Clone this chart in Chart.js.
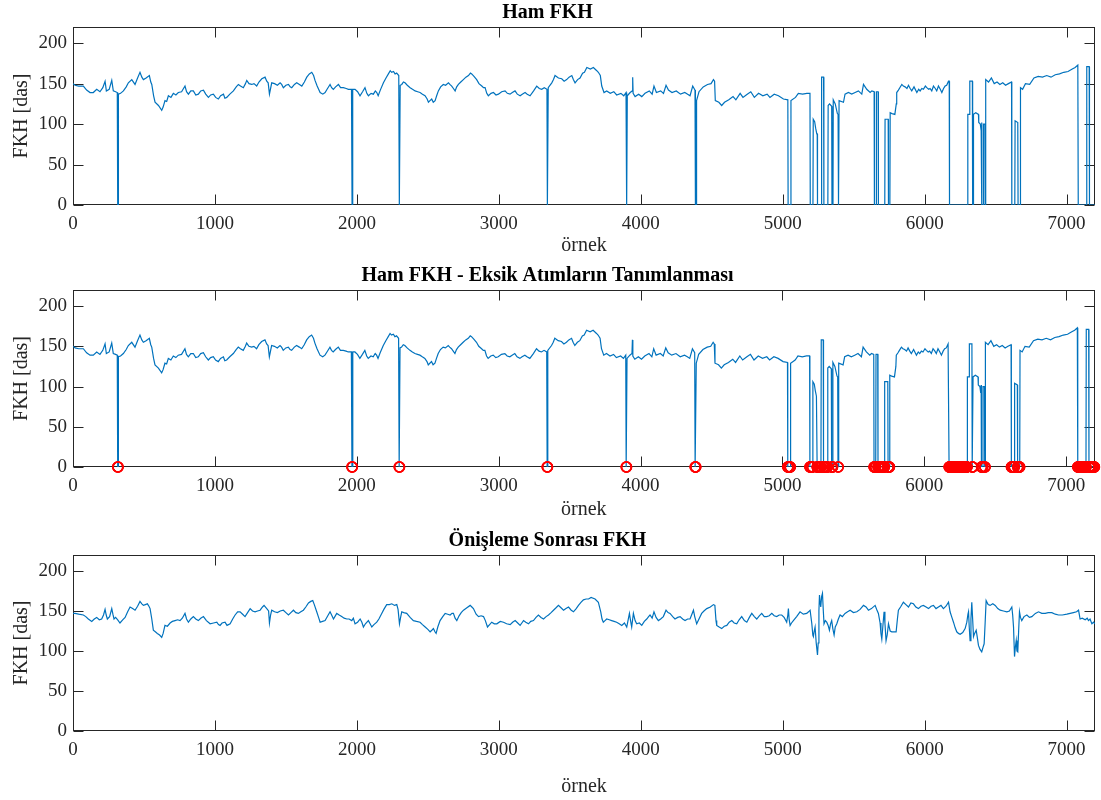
<!DOCTYPE html>
<html>
<head>
<meta charset="utf-8">
<script src="https://cdn.jsdelivr.net/npm/chart.js@4.4.0/dist/chart.umd.min.js"></script>
<style>
  body { margin: 0; background: #fff; width: 1101px; height: 800px; position: relative; overflow: hidden; }
  canvas { position: absolute; left: 0; }
</style>
</head>
<body>
<canvas id="c1"></canvas>
<canvas id="c2"></canvas>
<canvas id="c3"></canvas>
<script>
// axis ranges / tick labels
const ornekMax = 7200;
const fkhMax = 220;
const xTicks = [0, 1000, 2000, 3000, 4000, 5000, 6000, 7000];
const yTicks = [0, 50, 100, 150, 200];

const titles = ["Ham FKH", "Ham FKH - Eksik Atımların Tanımlanması", "Önişleme Sonrası FKH"];

// raw FKH, [örnek, value] (0 = missing beat)
const hamFKH = [
  [0,150],[15,148],[40,147],[73,147],[96,142],[120,139],[143,139],[167,143],[190,140],[210,145],[226,153],[235,141],
  [255,143],[273,154],[284,141],[300,140],[312,139],[315,0],[318,0],[320,137],[335,138],[355,141],[375,146],[390,151],
  [414,155],[437,149],[455,157],[472,164],[485,158],[496,155],[515,157],[538,160],[548,152],[555,149],[568,135],[578,127],
  [602,123],[625,117],[635,121],[648,129],[660,128],[672,135],[690,133],[707,138],[725,136],[742,139],[765,140],[789,147],
  [800,140],[813,137],[830,141],[848,141],[865,136],[883,137],[900,141],[919,142],[935,137],[954,133],[970,136],[989,137],
  [1005,133],[1024,131],[1040,135],[1060,137],[1070,132],[1083,133],[1105,137],[1130,141],[1150,146],[1165,149],[1180,147],
  [1200,145],[1215,150],[1224,154],[1240,150],[1259,149],[1275,150],[1294,147],[1310,152],[1330,156],[1353,158],[1365,153],
  [1375,151],[1384,137],[1400,151],[1420,150],[1440,148],[1459,151],[1470,149],[1482,145],[1500,148],[1518,149],[1530,146],
  [1541,145],[1560,149],[1576,151],[1595,149],[1612,147],[1630,152],[1647,158],[1665,162],[1682,164],[1695,160],[1705,154],
  [1720,147],[1741,139],[1760,137],[1776,139],[1790,143],[1811,149],[1822,145],[1834,143],[1850,146],[1870,149],[1885,145],
  [1905,145],[1925,144],[1940,143],[1962,143],[1966,0],[1969,0],[1972,143],[1987,143],[2005,140],[2022,135],[2040,140],
  [2057,145],[2070,138],[2081,135],[2100,138],[2116,137],[2130,141],[2140,139],[2150,135],[2165,142],[2187,151],[2205,157],
  [2222,162],[2235,166],[2245,164],[2258,165],[2269,162],[2280,163],[2295,160],[2299,0],[2302,0],[2305,148],[2316,149],
  [2328,152],[2339,151],[2355,148],[2375,145],[2392,143],[2410,141],[2428,140],[2445,139],[2462,137],[2480,135],[2495,131],
  [2504,127],[2515,129],[2527,131],[2538,127],[2551,129],[2562,135],[2574,141],[2590,146],[2609,149],[2625,148],[2645,151],
  [2655,149],[2668,147],[2680,144],[2692,141],[2703,146],[2715,149],[2732,152],[2750,155],[2768,158],[2786,160],[2800,163],
  [2809,162],[2825,159],[2844,155],[2860,150],[2880,147],[2892,145],[2903,145],[2915,138],[2926,135],[2945,138],[2962,139],
  [2980,136],[2997,137],[3020,140],[3044,141],[3060,138],[3079,137],[3095,139],[3114,141],[3130,137],[3150,135],[3165,137],
  [3185,139],[3200,137],[3220,135],[3245,141],[3267,147],[3285,144],[3302,143],[3320,145],[3339,143],[3342,0],[3345,0],
  [3348,145],[3373,151],[3385,155],[3396,160],[3420,157],[3443,156],[3460,153],[3478,155],[3495,158],[3514,160],[3525,155],
  [3537,151],[3555,155],[3572,157],[3590,163],[3603,164],[3620,170],[3645,168],[3666,170],[3690,166],[3701,164],[3715,160],
  [3725,147],[3741,139],[3760,141],[3785,138],[3810,140],[3830,136],[3860,138],[3880,135],[3896,139],[3899,0],[3902,0],
  [3905,135],[3925,139],[3940,141],[3943,158],[3946,138],[3960,134],[3985,137],[4007,134],[4030,138],[4060,141],[4080,137],
  [4093,147],[4110,139],[4140,141],[4160,138],[4178,148],[4195,142],[4220,139],[4250,141],[4280,137],[4310,139],[4330,137],
  [4347,135],[4366,147],[4382,142],[4385,0],[4390,0],[4393,129],[4410,140],[4440,146],[4470,149],[4495,150],[4512,155],
  [4520,153],[4525,129],[4550,127],[4570,123],[4590,127],[4620,130],[4650,134],[4670,130],[4700,138],[4720,133],[4750,137],
  [4775,140],[4800,133],[4830,138],[4860,135],[4890,137],[4910,133],[4940,137],[4970,135],[5005,131],[5036,130],[5038,0],
  [5056,0],[5058,129],[5090,133],[5110,138],[5140,137],[5170,138],[5192,138],[5194,0],[5213,0],[5215,106],[5225,103],
  [5232,95],[5240,88],[5243,88],[5245,0],[5272,0],[5274,158],[5288,158],[5290,0],[5318,0],[5320,123],[5330,125],[5345,122],
  [5347,0],[5354,0],[5356,130],[5370,125],[5385,113],[5390,112],[5392,0],[5394,0],[5397,129],[5428,127],[5439,137],
  [5463,139],[5486,137],[5510,139],[5533,141],[5557,137],[5569,149],[5592,143],[5616,139],[5628,141],[5644,140],[5646,0],
  [5658,0],[5660,140],[5672,140],[5674,0],[5719,0],[5721,106],[5743,106],[5745,0],[5755,0],[5757,114],[5770,113],[5790,112],
  [5800,125],[5803,139],[5815,142],[5825,145],[5839,149],[5850,147],[5862,146],[5875,144],[5886,148],[5898,144],[5909,141],
  [5925,146],[5945,139],[5958,143],[5968,141],[5980,144],[5991,143],[6005,147],[6015,145],[6028,143],[6038,144],[6050,141],
  [6062,147],[6075,144],[6085,141],[6097,147],[6110,143],[6121,139],[6133,144],[6144,147],[6155,148],[6168,153],[6173,153],
  [6175,0],[6302,0],[6304,112],[6316,112],[6318,153],[6336,153],[6338,0],[6342,0],[6344,112],[6360,114],[6379,112],
  [6381,102],[6392,100],[6398,92],[6401,102],[6403,0],[6412,0],[6414,100],[6424,100],[6426,0],[6429,0],[6431,155],
  [6450,152],[6470,157],[6490,150],[6510,152],[6530,149],[6550,151],[6570,148],[6590,150],[6612,152],[6614,0],[6635,0],
  [6637,104],[6656,102],[6658,0],[6673,0],[6675,145],[6690,143],[6710,150],[6740,149],[6770,157],[6800,159],[6830,158],
  [6860,160],[6890,158],[6920,161],[6950,162],[6980,164],[7010,165],[7040,168],[7060,170],[7079,173],[7082,0],[7140,0],
  [7142,171],[7159,171],[7161,0],[7200,0]
];

// preprocessed FKH
const onislemeFKH = [
  [0,147],[14,147],[40,146],[73,145],[90,143],[108,140],[132,137],[150,140],[167,142],[185,139],[202,140],[215,145],
  [226,152],[234,145],[242,140],[258,143],[273,153],[281,146],[289,140],[300,142],[315,139],[331,135],[350,139],[367,142],
  [385,149],[402,155],[420,153],[437,151],[455,156],[472,162],[485,159],[496,157],[510,158],[524,159],[535,156],[543,153],
  [555,140],[566,126],[580,124],[594,122],[610,120],[625,117],[635,122],[648,132],[665,131],[684,135],[700,137],[719,138],
  [737,139],[754,138],[770,141],[789,147],[800,140],[813,136],[830,140],[848,143],[865,140],[883,138],[900,141],[919,143],
  [940,138],[966,134],[990,135],[1013,136],[1025,133],[1036,132],[1050,135],[1071,136],[1085,132],[1107,134],[1125,140],
  [1142,145],[1160,149],[1177,149],[1195,146],[1212,143],[1230,148],[1248,153],[1265,150],[1283,149],[1300,150],[1318,151],
  [1335,155],[1346,157],[1365,153],[1378,150],[1384,135],[1392,145],[1400,151],[1420,149],[1440,148],[1460,150],[1482,151],
  [1500,148],[1518,145],[1535,148],[1553,151],[1570,148],[1588,147],[1605,149],[1623,151],[1640,155],[1659,160],[1675,162],
  [1689,163],[1700,158],[1717,149],[1730,142],[1741,136],[1758,137],[1776,138],[1795,144],[1811,149],[1822,145],[1835,140],
  [1845,143],[1858,147],[1875,145],[1893,143],[1910,141],[1929,140],[1945,140],[1964,138],[1975,141],[1987,134],[2005,136],
  [2023,140],[2035,136],[2046,130],[2060,134],[2081,138],[2093,134],[2105,130],[2120,133],[2140,136],[2155,140],[2175,147],
  [2190,152],[2210,158],[2228,158],[2246,159],[2265,157],[2281,158],[2290,152],[2300,134],[2308,142],[2316,149],[2330,148],
  [2351,147],[2375,142],[2398,138],[2420,137],[2445,136],[2462,133],[2481,130],[2500,127],[2516,124],[2528,126],[2539,128],
  [2550,124],[2558,122],[2570,130],[2586,138],[2605,143],[2622,147],[2640,146],[2657,145],[2670,147],[2680,147],[2692,141],
  [2704,138],[2720,144],[2735,148],[2751,151],[2775,154],[2798,157],[2810,155],[2821,153],[2840,146],[2857,143],[2875,144],
  [2892,143],[2905,138],[2920,130],[2935,133],[2950,136],[2968,134],[2986,134],[3010,137],[3033,136],[3055,134],[3080,133],
  [3097,136],[3115,138],[3133,135],[3150,132],[3162,135],[3174,138],[3190,136],[3209,134],[3225,137],[3244,138],[3262,142],
  [3279,145],[3297,142],[3315,140],[3333,143],[3350,145],[3368,148],[3385,151],[3403,154],[3420,157],[3438,154],[3456,151],
  [3473,153],[3491,155],[3510,151],[3526,149],[3545,153],[3561,157],[3580,161],[3596,164],[3615,165],[3632,165],[3650,167],
  [3678,165],[3701,161],[3718,149],[3727,140],[3736,136],[3748,138],[3760,140],[3778,139],[3795,138],[3812,137],[3830,136],
  [3848,134],[3866,132],[3885,135],[3901,130],[3910,138],[3920,147],[3928,138],[3936,130],[3948,147],[3960,138],[3971,134],
  [3990,135],[4007,132],[4025,137],[4042,140],[4055,143],[4065,145],[4080,141],[4093,149],[4108,142],[4124,138],[4140,140],
  [4159,143],[4178,151],[4192,148],[4206,147],[4225,143],[4241,140],[4260,142],[4277,143],[4295,140],[4312,138],[4330,140],
  [4347,140],[4360,146],[4371,151],[4380,143],[4394,134],[4410,140],[4429,147],[4445,150],[4465,153],[4490,155],[4512,158],
  [4522,157],[4530,138],[4535,132],[4552,130],[4570,128],[4588,131],[4606,132],[4623,136],[4641,138],[4658,135],[4676,134],
  [4693,139],[4711,143],[4730,138],[4747,136],[4765,142],[4782,147],[4800,143],[4817,140],[4835,144],[4852,147],[4870,143],
  [4887,143],[4905,144],[4923,147],[4940,144],[4958,143],[4975,145],[4993,145],[5010,142],[5028,136],[5036,145],[5040,153],
  [5045,140],[5052,132],[5062,135],[5075,138],[5098,143],[5122,149],[5145,146],[5169,147],[5182,149],[5193,151],[5205,134],
  [5212,120],[5216,118],[5222,125],[5228,130],[5236,110],[5245,95],[5250,110],[5255,150],[5259,170],[5264,160],[5268,155],
  [5274,168],[5280,172],[5286,150],[5291,134],[5300,138],[5310,136],[5320,132],[5329,126],[5337,134],[5345,138],[5353,128],
  [5362,120],[5370,130],[5381,134],[5392,140],[5404,145],[5420,143],[5439,147],[5457,149],[5475,151],[5498,148],[5522,149],
  [5545,152],[5569,157],[5587,155],[5604,151],[5625,153],[5651,157],[5662,152],[5674,147],[5686,135],[5692,122],[5698,115],
  [5705,130],[5714,149],[5720,135],[5728,113],[5736,120],[5745,134],[5757,125],[5768,124],[5785,124],[5799,124],[5808,140],
  [5815,151],[5830,155],[5850,161],[5868,158],[5886,155],[5903,160],[5921,159],[5938,155],[5956,153],[5974,156],[5991,157],
  [6010,155],[6027,153],[6045,156],[6062,157],[6080,153],[6097,155],[6115,157],[6132,153],[6150,156],[6168,161],[6179,149],
  [6190,143],[6203,136],[6215,129],[6226,124],[6238,122],[6250,121],[6268,123],[6285,128],[6297,136],[6305,146],[6309,149],
  [6314,130],[6320,113],[6326,140],[6332,161],[6338,140],[6344,118],[6352,122],[6363,126],[6370,118],[6379,107],[6390,102],
  [6402,99],[6410,104],[6419,109],[6426,135],[6433,163],[6447,158],[6461,157],[6480,159],[6497,157],[6515,153],[6532,151],
  [6555,150],[6579,149],[6597,150],[6614,155],[6620,145],[6626,130],[6633,93],[6639,105],[6645,113],[6650,100],[6656,99],
  [6662,125],[6668,149],[6675,142],[6684,138],[6700,143],[6720,145],[6738,142],[6755,143],[6780,147],[6802,149],[6825,147],
  [6849,147],[6870,148],[6896,148],[6920,146],[6943,145],[6970,145],[7002,146],[7025,147],[7048,148],[7070,149],[7084,151],
  [7095,140],[7110,141],[7131,139],[7145,141],[7154,138],[7165,140],[7178,134],[7190,136],[7200,134]
];

// every sample inside a zero run of the raw signal is a missing beat
function eksikAtimlar(points) {
  const out = [];
  for (let i = 0; i < points.length; i++) {
    if (points[i][1] !== 0) continue;
    const next = points[i + 1];
    const end = next && next[1] === 0 ? next[0] : points[i][0];
    for (let s = points[i][0]; s <= end; s++) out.push({ x: s, y: 0 });
    if (next && next[1] === 0) i++;
  }
  return out;
}

const serif = "'Liberation Serif', 'Times New Roman', serif";
const axisColor = '#262626';

const matlabBox = {
  id: 'matlabBox',
  beforeDatasetsDraw(chart) {
    const { ctx, chartArea: a, scales: { x, y } } = chart;
    const L = Math.round(a.left) + 0.5, R = Math.round(a.right) - 0.5;
    const T = Math.round(a.top) + 0.5, B = Math.round(a.bottom) - 0.5;
    ctx.save();
    ctx.strokeStyle = axisColor;
    ctx.lineWidth = 1;
    ctx.strokeRect(L, T, R - L, B - T);
    ctx.beginPath();
    xTicks.forEach(v => {
      const px = Math.round(x.getPixelForValue(v)) + 0.5;
      ctx.moveTo(px, B); ctx.lineTo(px, B - 10);
      ctx.moveTo(px, T); ctx.lineTo(px, T + 10);
    });
    yTicks.forEach(v => {
      const py = Math.round(y.getPixelForValue(v)) + 0.5;
      ctx.moveTo(L, py); ctx.lineTo(L + 10, py);
      ctx.moveTo(R, py); ctx.lineTo(R - 10, py);
    });
    ctx.stroke();
    ctx.restore();
  }
};

const toXY = pts => pts.map(p => ({ x: p[0], y: p[1] }));

function makePanel(id, p) {
  const cv = document.getElementById(id);
  cv.width = 1101; cv.height = p.height;
  cv.style.top = p.top + 'px';
  cv.style.width = '1101px'; cv.style.height = p.height + 'px';

  const datasets = [];
  if (p.markers) {
    datasets.push({
      type: 'scatter', data: p.markers, clip: false,
      pointRadius: 5, pointBorderWidth: 1.5, pointBorderColor: '#ff0000',
      pointBackgroundColor: 'rgba(0,0,0,0)', showLine: false
    });
  }
  datasets.push({
    type: 'line', data: toXY(p.series), borderColor: '#0072BD', borderWidth: 1.2,
    pointRadius: 0, tension: 0, fill: false
  });

  new Chart(cv, {
    type: 'line',
    data: { datasets },
    options: {
      responsive: false, animation: false, devicePixelRatio: 1,
      layout: { padding: { left: 0, right: 6, top: 0, bottom: 0 } },
      plugins: {
        legend: { display: false }, tooltip: { enabled: false },
        title: {
          display: true, text: p.title, color: '#000',
          font: { family: serif, size: 20, weight: 'bold', lineHeight: 1.2 },
          padding: { top: 1, bottom: 2 }
        }
      },
      scales: {
        x: {
          type: 'linear', min: 0, max: ornekMax,
          afterBuildTicks: s => { s.ticks = xTicks.map(v => ({ value: v })); },
          afterFit: s => { s.height = p.axisH; },
          grid: { display: false, drawTicks: false }, border: { display: false },
          ticks: { color: axisColor, font: { family: serif, size: 19 }, padding: 8, maxRotation: 0, autoSkip: false,
                   callback: v => String(v) },
          title: { display: true, text: 'örnek', color: axisColor, font: { family: serif, size: 20 }, padding: { top: 0, bottom: p.pb } }
        },
        y: {
          min: 0, max: fkhMax,
          afterBuildTicks: s => { s.ticks = yTicks.map(v => ({ value: v })); },
          afterFit: s => { s.width = 73; },
          grid: { display: false, drawTicks: false }, border: { display: false },
          ticks: { color: axisColor, font: { family: serif, size: 19 }, padding: 6, callback: v => String(v) },
          title: { display: true, text: 'FKH [das]', color: axisColor, font: { family: serif, size: 20 }, padding: { top: 10, bottom: 0 } }
        }
      }
    },
    plugins: [matlabBox]
  });
}

makePanel('c1', { top: 0, height: 262, axisH: 57, pb: 4, title: titles[0], series: hamFKH });
makePanel('c2', { top: 263, height: 262, axisH: 58, pb: 3, title: titles[1], series: hamFKH, markers: eksikAtimlar(hamFKH) });
makePanel('c3', { top: 528, height: 272, axisH: 69, pb: 1, title: titles[2], series: onislemeFKH });
</script>
</body>
</html>
